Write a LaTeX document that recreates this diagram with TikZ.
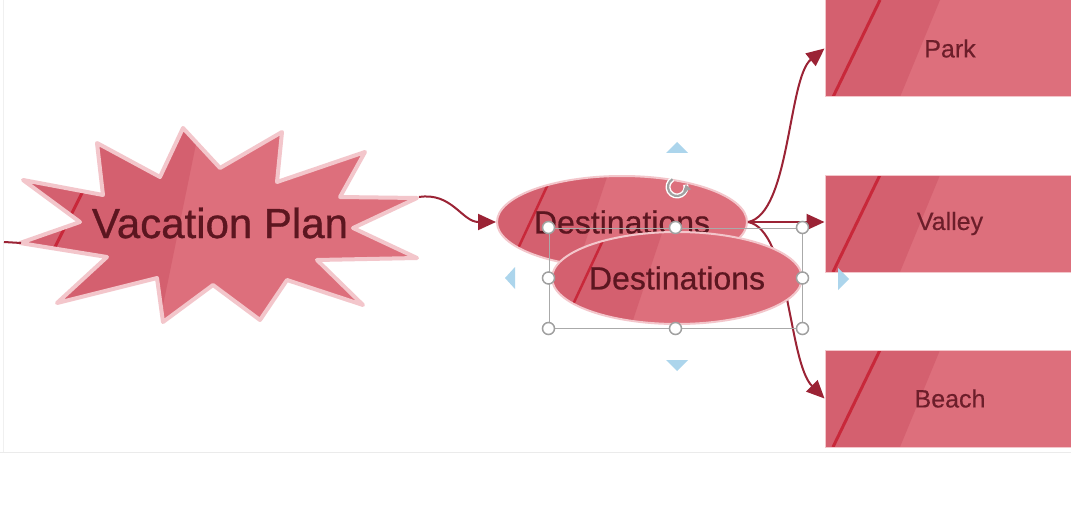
\documentclass[tikz,border=0pt]{standalone}
\usepackage{fontspec}
\setmainfont{Liberation Sans}
\usetikzlibrary{shapes.geometric,arrows.meta,calc}
\definecolor{fillL}{RGB}{221,111,124}
\definecolor{fillD}{RGB}{212,96,111}
\definecolor{edgepink}{RGB}{243,198,203}
\definecolor{stripeC}{RGB}{200,40,58}
\definecolor{textC}{RGB}{92,22,32}
\definecolor{boxtextC}{RGB}{108,30,42}
\definecolor{arrowC}{RGB}{155,35,53}
\definecolor{handleC}{RGB}{160,160,160}
\definecolor{blueC}{RGB}{172,213,236}
\begin{document}
\begin{tikzpicture}[x=1pt,y=-1pt,
  stripeline/.style={draw=stripeC,line width=3},
  conn/.style={draw=arrowC,line width=2},
  arrowconn/.style={conn,-{Triangle[length=18,width=16]}},
  egloss/.style={path picture={
     \fill[fillD] ($(path picture bounding box.center)+(-10,-60)$) -- ($(path picture bounding box.center)+(-50,60)$) -- ($(path picture bounding box.center)+(-140,60)$) -- ($(path picture bounding box.center)+(-140,-60)$) -- cycle;
     \draw[stripeline,line width=2.5] ($(path picture bounding box.center)+(-66,-55)$) -- ($(path picture bounding box.center)+(-114,48)$);}},
  dest/.style={ellipse,fill=fillL,draw=edgepink,line width=2,minimum width=250,minimum height=92,inner sep=0,egloss,text=textC,font=\fontsize{32}{38}\selectfont\addfontfeature{FakeBold=0.6}},
  bgloss/.style={path picture={
     \fill[fillD] (path picture bounding box.north west) -- +(115,0) -- +(75,97) -- +(0,97) -- cycle;
     \draw[stripeline] ($(path picture bounding box.north west)+(8,97)$) -- +(47,-97);}},
  box/.style={rectangle,fill=fillL,draw=edgepink,line width=1,minimum width=250,minimum height=97,inner sep=0,bgloss,text=boxtextC,font=\fontsize{25}{30}\selectfont\addfontfeature{FakeBold=0.4}},
  startext/.style={text=textC,font=\fontsize{42}{50}\selectfont\addfontfeature{FakeBold=0.8},inner sep=0},
  selbox/.style={draw=handleC!90,line width=1,minimum width=253,minimum height=100,inner sep=0},
  handle/.style={circle,draw=handleC,fill=white,line width=1.5,minimum size=12,inner sep=0}
]
\fill[white] (0,0) rectangle (1071,516);
\useasboundingbox (0,0) rectangle (1071,516);
\draw[black!8,line width=1] (0,452) -- (1071,452);
\draw[black!6,line width=1] (3,0) -- (3,452);

% starburst
\filldraw[fill=fillL,draw=edgepink,line width=4,line join=round,
  path picture={\fill[fillD] (0,100) -- (205,100) -- (158,330) -- (0,330) -- cycle;
                \draw[stripeline] (95,167) -- (45,267);}]
  (23,180) -- (103,195) -- (97,143) -- (160,177) -- (183,128) -- (220,168) -- (282,132) -- (277,182) -- (365,152) -- (340,197) -- (417,198) -- (353,228) -- (417,258) -- (317,260) -- (363,305) -- (287,280) -- (260,320) -- (213,285) -- (163,322) -- (157,278) -- (57,303) -- (107,257) -- (20,243) -- (80,222) -- cycle;
\node[startext] (vp) at (220,223) {Vacation Plan};
\coordinate (vpR) at (419,197);
\coordinate (vpL) at (21,243);
\coordinate (offL) at (4,242);
\draw[conn] (offL) -- (vpL);

% boxes
\node[box] (park) at (950,48.5) {Park};
\node[box] (valley) at (950,223.5) {Valley};
\node[box] (beach) at (950,398.5) {Beach};

% first ellipse and connectors
\node[dest] (d1) at (622,222) {Destinations};
\draw[arrowconn] (vpR) .. controls (452,192) and (462,222) .. (d1.west);
\draw[arrowconn] (d1.east) .. controls (790,214) and (788,78) .. (park.west);
\draw[arrowconn] (d1.east) -- (d1.east -| valley.west);
\draw[arrowconn] (d1.east) .. controls (790,230) and (788,362) .. (beach.west);

% second (selected) ellipse
\node[dest] (d2) at (677,278) {Destinations};

% selection frame
\node[selbox] (sel) at (675.5,278) {};
\node[handle] (h1) at (sel.north west) {};
\node[handle] (h2) at (sel.north) {};
\node[handle] (h3) at (sel.north east) {};
\node[handle] (h4) at (sel.west) {};
\node[handle] (h5) at (sel.east) {};
\node[handle] (h6) at (sel.south west) {};
\node[handle] (h7) at (sel.south) {};
\node[handle] (h8) at (sel.south east) {};

% rotation handle
\coordinate (rot) at (677,187);
\draw[white,line width=5] (rot) ++(240:9) arc[start angle=240,end angle=-15,radius=9];
\draw[handleC,line width=2.2,-{Triangle[length=6,width=8]}] (rot) ++(240:9) arc[start angle=240,end angle=-15,radius=9];

% blue nudge triangles
\fill[blueC] (666,153) -- (688,153) -- (677,142) -- cycle;
\fill[blueC] (666,360) -- (688,360) -- (677,371) -- cycle;
\fill[blueC] (505,278) -- (515,267) -- (515,289) -- cycle;
\fill[blueC] (838,268) -- (838,290) -- (849,279) -- cycle;
\end{tikzpicture}
\end{document}
